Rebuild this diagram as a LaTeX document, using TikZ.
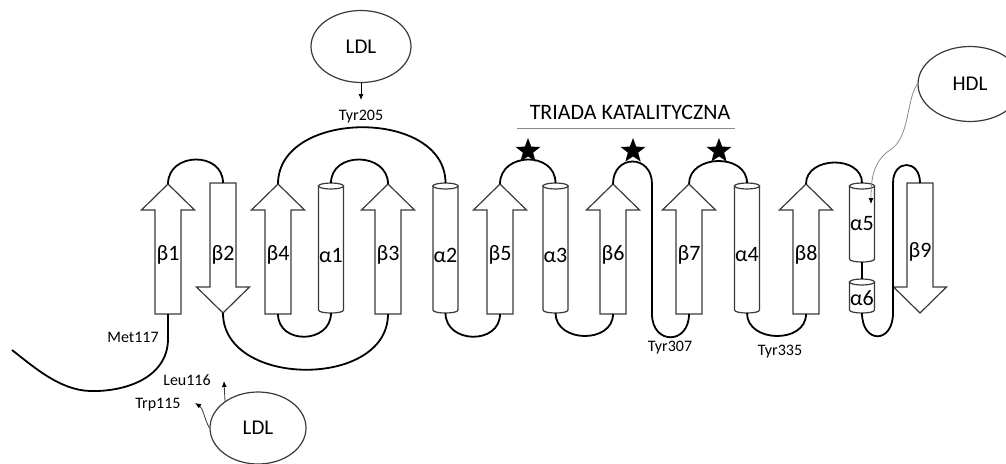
\documentclass[tikz,border=0pt]{standalone}
\usepackage{fontspec}
\setmainfont{Carlito}
\usetikzlibrary{shapes.geometric,arrows.meta}
\definecolor{edgegray}{HTML}{3A3A3A}
\definecolor{thingray}{HTML}{8A8A8A}
\tikzset{
  strandbox/.style={draw=edgegray,line width=1.2pt,fill=white,line join=miter},
  loopline/.style={draw=black,line width=1.8pt},
  lab/.style={font=\fontsize{22}{25}\selectfont,inner sep=0pt},
  smalllab/.style={font=\fontsize{16}{19}\selectfont,inner sep=0pt},
  bigell/.style={draw=edgegray,line width=1.2pt,ellipse,inner sep=0pt,font=\fontsize{21}{24}\selectfont},
  thinarrow/.style={line width=0.8pt,-{Latex[length=6pt,width=5pt,color=black]}},
  starmark/.style={star,star points=5,star point ratio=2.4,fill=black,minimum size=26pt,inner sep=0pt}
}
\newcommand\bup[3]{%
  \draw[strandbox] ({#2-13},314) -- ({#2-13},210) -- ({#2-26.5},210) -- (#2,184) -- ({#2+26.5},210) -- ({#2+13},210) -- ({#2+13},314) -- cycle;
  \coordinate (#1t) at (#2,184); \coordinate (#1b) at (#2,314);
  \node[lab] (#1) at (#2,255) {#3};}
\newcommand\bdown[4]{%
  \draw[strandbox] ({#2-13},183) -- ({#2-13},287) -- ({#2-26.5},287) -- (#2,313) -- ({#2+26.5},287) -- ({#2+13},287) -- ({#2+13},183) -- cycle;
  \coordinate (#1t) at (#2,183); \coordinate (#1b) at (#2,313);
  \node[lab] (#1) at (#2,#4) {#3};}
\newcommand\hlx[6]{%
  \draw[strandbox] ({#2-12.5},#3) -- ({#2-12.5},#4) .. controls ({#2-12.5},{#4+4}) and ({#2+12.5},{#4+4}) .. ({#2+12.5},#4) -- ({#2+12.5},#3) -- cycle;
  \draw[strandbox] (#2,#3) ellipse [x radius=12.5, y radius=3];
  \coordinate (#1t) at (#2,{#3-3}); \coordinate (#1b) at (#2,{#4+3});
  \node[lab] (#1) at (#2,#6) {#5};}
\begin{document}
\begin{tikzpicture}[x=1pt,y=-1pt]
\useasboundingbox (0,0) rectangle (1006,463);
% strands and helices
\bup{b1}{168}{β1}
\bdown{b2}{223}{β2}{255}
\bup{b4}{278}{β4}
\hlx{a1}{331}{186}{310}{α1}{255}
\bup{b3}{388}{β3}
\hlx{a2}{445.5}{186}{310}{α2}{255}
\bup{b5}{500}{β5}
\hlx{a3}{555.5}{186}{310}{α3}{255}
\bup{b6}{613}{β6}
\bup{b7}{689}{β7}
\hlx{a4}{747}{186}{310}{α4}{255}
\bup{b8}{806}{β8}
\hlx{a5}{862}{186}{259}{α5}{224}
\hlx{a6}{862}{282}{310}{α6}{298}
\bdown{b9}{920}{β9}{252}
% loops
\coordinate (nterm) at (12,350);
\draw[loopline] (b1b) -- (168,340) .. controls (167,378) and (125,392) .. (90,391) .. controls (60,390) and (35,368) .. (nterm);
\draw[loopline] (b1t) .. controls +(0,-32) and +(0,-32) .. (b2t);
\draw[loopline] (b2b) .. controls +(0,75) and +(0,75) .. (b3b);
\draw[loopline] (b4t) .. controls +(0,-75) and +(0,-75) .. (a2t);
\draw[loopline] (b4b) .. controls +(0,31) and +(0,31) .. (a1b);
\draw[loopline] (a1t) .. controls +(0,-32) and +(0,-32) .. (b3t);
\draw[loopline] (a2b) .. controls +(0,31) and +(0,31) .. (b5b);
\draw[loopline] (b5t) .. controls +(0,-32) and +(0,-32) .. (a3t);
\draw[loopline] (a3b) .. controls +(0,30) and +(0,30) .. (b6b);
\coordinate (turn6) at (652,184);
\draw[loopline] (b6t) .. controls +(0,-30) and +(0,-30) .. (turn6) -- (652,314) .. controls +(0,31) and +(0,31) .. (b7b);
\draw[loopline] (b7t) .. controls +(0,-30) and +(0,-30) .. (a4t);
\draw[loopline] (a4b) .. controls +(0,30) and +(0,30) .. (b8b);
\draw[loopline] (b8t) .. controls +(0,-28) and +(0,-28) .. (a5t);
\draw[loopline] (a5b) -- (a6t);
\coordinate (turn9) at (893,313);
\draw[loopline] (a6b) .. controls +(0,31) and +(0,31) .. (turn9) -- (893,183) .. controls +(0,-24) and +(0,-24) .. (b9t);
% stars and catalytic triad
\node[starmark] (s1) at (528,151) {};
\node[starmark] (s2) at (633,151) {};
\node[starmark] (s3) at (719,151) {};
\coordinate (tl) at (517,128.5);
\coordinate (tr) at (735,128.5);
\draw[thingray,line width=1pt] (tl) -- (tr);
\node[lab] (triad) at (630,112) {TRIADA KATALITYCZNA};
% LDL top
\node[bigell,minimum width=100pt,minimum height=72pt] (ldl1) at (361,46.5) {LDL};
\node[smalllab] (tyr205) at (361,117) {Tyr205};
\coordinate (ldl1tip) at (361,100);
\draw[thinarrow] (ldl1.south) -- (ldl1tip);
% HDL
\node[bigell,minimum width=104pt,minimum height=75pt] (hdl) at (970,84) {HDL};
\coordinate (hdltip) at (871,204);
\draw[thingray,thinarrow] (hdl.west) .. controls (906,100) and (910,138) .. (890,150) .. controls (872,162) and (871,182) .. (hdltip);
% LDL bottom
\node[bigell,minimum width=96pt,minimum height=72pt] (ldl2) at (258,428) {LDL};
\coordinate (leustart) at (225,401.5);
\coordinate (leutip) at (224,381);
\coordinate (trptip) at (195,403);
\draw[edgegray,thinarrow] (leustart) -- (leutip);
\draw[edgegray,thinarrow] (ldl2.west) .. controls (204,418) and (203,408) .. (trptip);
% residue labels
\node[smalllab] (met) at (133,337) {Met117};
\node[smalllab] (leu) at (187,380) {Leu116};
\node[smalllab] (trp) at (158,405) {Trp115};
\node[smalllab] (tyr307) at (670,348) {Tyr307};
\node[smalllab] (tyr335) at (780,352) {Tyr335};
\end{tikzpicture}
\end{document}
